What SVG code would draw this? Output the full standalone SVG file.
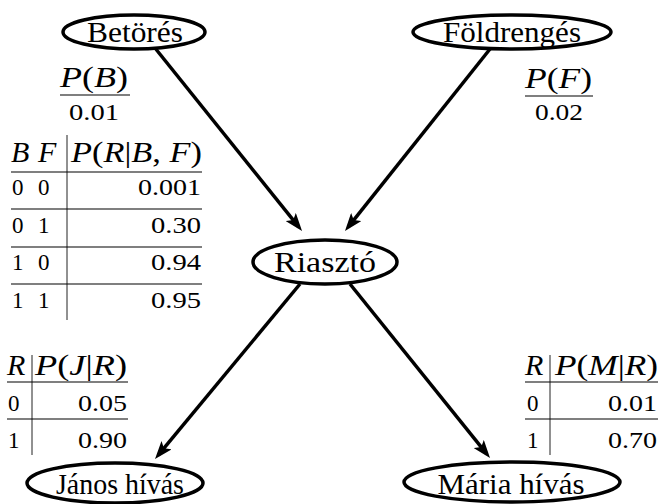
<svg xmlns="http://www.w3.org/2000/svg" width="660" height="504" viewBox="0 0 660 504">
  <defs>
    <marker id="arrow" viewBox="0 0 18 13" markerUnits="userSpaceOnUse" markerWidth="18" markerHeight="13" refX="13" refY="6.5" orient="auto">
      <path d="M0,0 L18,6.5 L0,13 L4,6.5 Z" fill="#000"/>
    </marker>
    <style>
      .node ellipse { fill: #fff; stroke: #000; stroke-width: 3.5; }
      .label { font-family: "Liberation Serif", "DejaVu Serif", serif; font-size: 30px; fill: #000; text-anchor: middle; }
      .edge { stroke: #000; stroke-width: 3.5; fill: none; marker-end: url(#arrow); }
      .math { font-family: "Liberation Serif", "DejaVu Serif", serif; font-size: 30px; fill: #000; }
      .it { font-style: italic; }
      .num { font-family: "Liberation Serif", "DejaVu Serif", serif; font-size: 23px; fill: #000; }
      .end { text-anchor: end; }
      .mid { text-anchor: middle; }
      .rule { stroke: #000; stroke-width: 1.2; }
      .vrule { stroke: #222; stroke-width: 1; }
    </style>
  </defs>

  <rect width="660" height="504" fill="#fff"/>

  <!-- connectors -->
  <g id="edges">
    <line class="edge" x1="155" y1="48" x2="298.9" y2="227.1"/>
    <line class="edge" x1="490" y1="49" x2="348.1" y2="227.1"/>
    <line class="edge" x1="300" y1="284" x2="158.2" y2="455.2"/>
    <line class="edge" x1="350" y1="284" x2="486.9" y2="454.1"/>
  </g>

  <!-- nodes -->
  <g id="betores" class="node">
    <ellipse cx="134" cy="32" rx="71" ry="17"/>
    <text class="label" x="135" y="42" textLength="96" lengthAdjust="spacingAndGlyphs">Betörés</text>
  </g>
  <g id="foldrenges" class="node">
    <ellipse cx="512" cy="32" rx="99" ry="17"/>
    <text class="label" x="512" y="42" textLength="138" lengthAdjust="spacingAndGlyphs">Földrengés</text>
  </g>
  <g id="riaszto" class="node">
    <ellipse cx="325" cy="262" rx="72" ry="22"/>
    <text class="label" x="325" y="272" textLength="102" lengthAdjust="spacingAndGlyphs">Riasztó</text>
  </g>
  <g id="janos" class="node">
    <ellipse cx="115" cy="483" rx="88" ry="20"/>
    <text class="label" x="120" y="494" textLength="128" lengthAdjust="spacingAndGlyphs">János hívás</text>
  </g>
  <g id="maria" class="node">
    <ellipse cx="512" cy="482" rx="108" ry="20"/>
    <text class="label" x="511" y="494" textLength="147" lengthAdjust="spacingAndGlyphs">Mária hívás</text>
  </g>

  <!-- prior of B -->
  <g id="table-b">
    <text class="math" x="60" y="87" textLength="68" lengthAdjust="spacingAndGlyphs"><tspan class="it">P</tspan>(<tspan class="it">B</tspan>)</text>
    <line class="rule" x1="60" y1="95" x2="130" y2="95"/>
    <text class="num mid" x="94" y="120" textLength="50" lengthAdjust="spacingAndGlyphs">0.01</text>
  </g>

  <!-- prior of F -->
  <g id="table-f">
    <text class="math" x="525" y="88" textLength="67" lengthAdjust="spacingAndGlyphs"><tspan class="it">P</tspan>(<tspan class="it">F</tspan>)</text>
    <line class="rule" x1="525" y1="96" x2="593" y2="96"/>
    <text class="num mid" x="559" y="120" textLength="48" lengthAdjust="spacingAndGlyphs">0.02</text>
  </g>

  <!-- conditional table of R -->
  <g id="table-r">
    <text class="math it" x="11" y="162">B</text>
    <text class="math it" x="38" y="162">F</text>
    <text class="math" x="71" y="162" textLength="131" lengthAdjust="spacingAndGlyphs"><tspan class="it">P</tspan>(<tspan class="it">R</tspan>|<tspan class="it">B</tspan>, <tspan class="it">F</tspan>)</text>
    <line class="vrule" x1="67" y1="135" x2="67" y2="320"/>
    <line class="rule" x1="11" y1="172" x2="202" y2="172"/>
    <line class="rule" x1="11" y1="209" x2="202" y2="209"/>
    <line class="rule" x1="11" y1="247" x2="202" y2="247"/>
    <line class="rule" x1="11" y1="284" x2="202" y2="284"/>
    <text class="num" x="12" y="195">0</text><text class="num" x="38" y="195">0</text>
    <text class="num end" x="201" y="195" textLength="63" lengthAdjust="spacingAndGlyphs">0.001</text>
    <text class="num" x="12" y="233">0</text><text class="num" x="38" y="233">1</text>
    <text class="num end" x="201" y="233" textLength="50" lengthAdjust="spacingAndGlyphs">0.30</text>
    <text class="num" x="12" y="270">1</text><text class="num" x="38" y="270">0</text>
    <text class="num end" x="201" y="270" textLength="50" lengthAdjust="spacingAndGlyphs">0.94</text>
    <text class="num" x="12" y="308">1</text><text class="num" x="38" y="308">1</text>
    <text class="num end" x="201" y="308" textLength="50" lengthAdjust="spacingAndGlyphs">0.95</text>
  </g>

  <!-- conditional table of J -->
  <g id="table-j">
    <text class="math it" x="7" y="375">R</text>
    <text class="math" x="35" y="375" textLength="92" lengthAdjust="spacingAndGlyphs"><tspan class="it">P</tspan>(<tspan class="it">J</tspan>|<tspan class="it">R</tspan>)</text>
    <line class="vrule" x1="32" y1="355" x2="32" y2="455"/>
    <line class="rule" x1="7" y1="382" x2="128" y2="382"/>
    <line class="rule" x1="7" y1="419" x2="128" y2="419"/>
    <text class="num" x="8" y="411">0</text>
    <text class="num end" x="127" y="411" textLength="49" lengthAdjust="spacingAndGlyphs">0.05</text>
    <text class="num" x="8" y="448">1</text>
    <text class="num end" x="127" y="448" textLength="49" lengthAdjust="spacingAndGlyphs">0.90</text>
  </g>

  <!-- conditional table of M -->
  <g id="table-m">
    <text class="math it" x="525" y="375">R</text>
    <text class="math" x="555" y="375" textLength="103" lengthAdjust="spacingAndGlyphs"><tspan class="it">P</tspan>(<tspan class="it">M</tspan>|<tspan class="it">R</tspan>)</text>
    <line class="vrule" x1="550" y1="355" x2="550" y2="455"/>
    <line class="rule" x1="525" y1="382" x2="658" y2="382"/>
    <line class="rule" x1="525" y1="419" x2="658" y2="419"/>
    <text class="num" x="527" y="411">0</text>
    <text class="num end" x="657" y="411" textLength="49" lengthAdjust="spacingAndGlyphs">0.01</text>
    <text class="num" x="527" y="448">1</text>
    <text class="num end" x="657" y="448" textLength="49" lengthAdjust="spacingAndGlyphs">0.70</text>
  </g>
</svg>
